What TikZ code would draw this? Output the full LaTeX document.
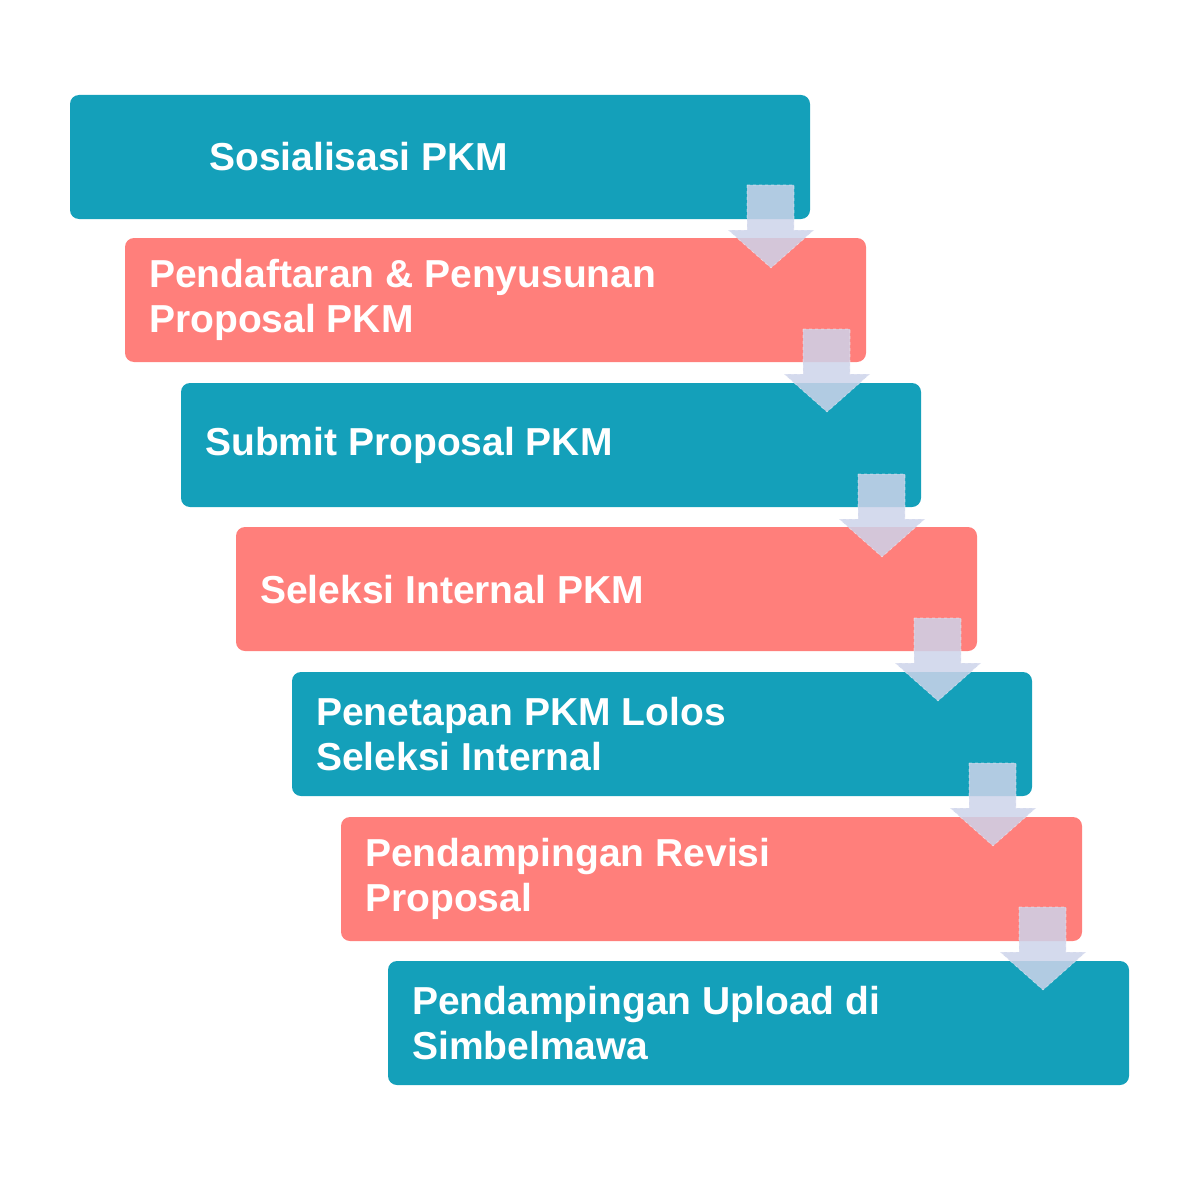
\documentclass[tikz,border=0pt]{standalone}
\usepackage{fontspec}
\setmainfont{Liberation Sans}
\definecolor{teal1}{HTML}{14A0BA}
\definecolor{coral1}{HTML}{FF7F7B}
\definecolor{arr}{HTML}{CDD3EA}
\begin{document}
\begin{tikzpicture}[x=1pt,y=-1pt,
  boxst/.style={rounded corners=9pt,draw=none},
  lbl/.style={anchor=west,text=white,font=\fontsize{39}{45}\selectfont\bfseries,align=left,inner sep=0pt},
  arrst/.style={fill=arr,fill opacity=0.85,draw=white,draw opacity=0.5,dashed,line width=0.6pt}]
\useasboundingbox (0,0) rectangle (1180,1177);
\def\L{70,125,181,236,292,341,388}
\foreach \l/\r/\t/\c/\i in {70/810/95/teal1/1,125/866/238/coral1/2,181/921/383/teal1/3,236/977/527/coral1/4,292/1032/672/teal1/5,341/1082/817/coral1/6,388/1129/961/teal1/7}{
  \fill[boxst,\c] (\l,\t) rectangle (\r,\t+124);
  \coordinate (b\i) at (\l,\t);
  \coordinate (r\i) at (\r,\t);
}
\node[lbl] (t1) at (209,157) {Sosialisasi PKM};
\node[lbl] (t2) at (149,300) {Pendaftaran \& Penyusunan\\Proposal PKM};
\node[lbl] (t3) at (205,445) {Submit Proposal PKM};
\node[lbl] (t4) at (260,590) {Seleksi Internal PKM};
\node[lbl] (t5) at (316,734) {Penetapan PKM Lolos\\Seleksi Internal};
\node[lbl] (t6) at (365,879) {Pendampingan Revisi\\Proposal};
\node[lbl] (t7) at (412,1023) {Pendampingan Upload di\\Simbelmawa};
\foreach \r/\t in {810/218,866/362,921/507,977/651,1032/796,1082/940}{
  \filldraw[arrst] (\r-63,\t-33) -- (\r-16,\t-33) -- (\r-16,\t+12) -- (\r+4,\t+12) -- (\r-39,\t+50) -- (\r-82,\t+12) -- (\r-63,\t+12) -- cycle;
}
\end{tikzpicture}
\end{document}
